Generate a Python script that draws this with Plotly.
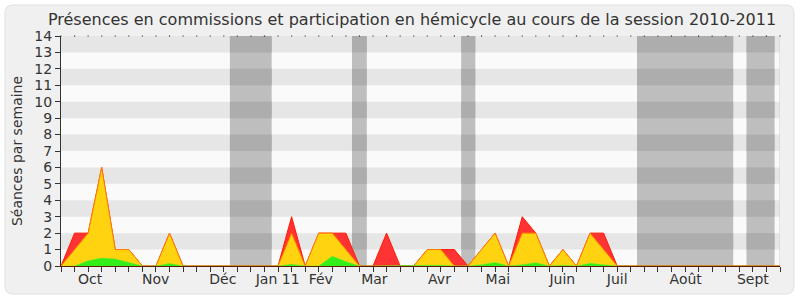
import plotly.graph_objects as go

# ---- data (one value per week, week index 0..53) ----
weeks = list(range(54))
red_vals = [0, 2, 2, 6, 1, 1, 0, 0, 2, 0, 0, 0, 0, 0, 0, 0, 0, 3, 0, 2, 2, 2, 0, 0, 2, 0, 0,
            1, 1, 1, 0, 1, 2, 0, 3, 2, 0, 1, 0, 2, 2, 0, 0, 0, 0, 0, 0, 0, 0, 0, 0, 0, 0, 0]
yellow_vals = [0, 1, 2, 6, 1, 1, 0, 0, 2, 0, 0, 0, 0, 0, 0, 0, 0, 2, 0, 2, 2, 1, 0, 0, 0, 0, 0,
               1, 1, 0, 0, 1, 2, 0, 2, 2, 0, 1, 0, 2, 1, 0, 0, 0, 0, 0, 0, 0, 0, 0, 0, 0, 0, 0]
green_vals = [0, 0, 0.32, 0.48, 0.43, 0.2, 0, 0, 0.15, 0, 0, 0, 0, 0, 0, 0, 0, 0.1, 0, 0, 0.6, 0.27,
              0, 0, 0, 0, 0, 0.04, 0.05, 0, 0, 0.08, 0.22, 0, 0.08, 0.2, 0, 0.05, 0, 0.16, 0.08, 0,
              0, 0, 0, 0, 0, 0, 0, 0, 0, 0, 0, 0]

month_labels = ["Oct", "Nov", "Déc", "Jan 11", "Fév", "Mar", "Avr", "Mai", "Juin", "Juil", "Août", "Sept"]
month_pos = [2.14, 6.97, 11.93, 15.97, 19.15, 23.1, 27.9, 32.2, 36.95, 41.0, 46.05, 51.0]

# holiday bands (week units)
band_start = [12.45, 21.45, 29.5, 42.46, 50.53]
band_end = [15.53, 22.54, 30.54, 49.55, 52.6]

y_max = 14
title = "Présences en commissions et participation en hémicycle au cours de la session 2010-2011"

FONT = "DejaVu Sans"
TXT = "#333333"

# ---- geometry helpers (pixel -> paper) ----
W, H = 800, 300
ML, MR, MT, MB = 61, 20, 36, 34
PW, PH = W - ML - MR, H - MT - MB


def px(x):
    return (x - ML) / PW


def py(y):
    return (H - MB - y) / PH


fig = go.Figure()

# traces (overlaid areas)
fig.add_trace(go.Scatter(x=weeks, y=red_vals, mode="lines", fill="tozeroy",
                         fillcolor="#ff3333", line=dict(color="#ff1a00", width=1),
                         hoverinfo="skip", showlegend=False))
fig.add_trace(go.Scatter(x=weeks, y=yellow_vals, mode="lines", fill="tozeroy",
                         fillcolor="#ffd30f", line=dict(color="#ff8000", width=1),
                         hoverinfo="skip", showlegend=False))
fig.add_trace(go.Scatter(x=weeks, y=green_vals, mode="lines", fill="tozeroy",
                         fillcolor="#33ee19", line=dict(color="#66e633", width=0.5),
                         hoverinfo="skip", showlegend=False))
# dotted top edge at each week
fig.add_trace(go.Scatter(x=weeks, y=[y_max] * len(weeks), mode="markers",
                         marker=dict(symbol="square", size=1.2, color="#333333", line=dict(width=0)),
                         cliponaxis=False, hoverinfo="skip", showlegend=False))

shapes = []
# outer rounded panel
r = 8
x0, x1, y0, y1 = 5, 794, 5, 294
path = (f"M {px(x0 + r)},{py(y0)} L {px(x1 - r)},{py(y0)} "
        f"Q {px(x1)},{py(y0)} {px(x1)},{py(y0 + r)} L {px(x1)},{py(y1 - r)} "
        f"Q {px(x1)},{py(y1)} {px(x1 - r)},{py(y1)} L {px(x0 + r)},{py(y1)} "
        f"Q {px(x0)},{py(y1)} {px(x0)},{py(y1 - r)} L {px(x0)},{py(y0 + r)} "
        f"Q {px(x0)},{py(y0)} {px(x0 + r)},{py(y0)} Z")
shapes.append(dict(type="path", path=path, xref="paper", yref="paper", layer="below",
                   fillcolor="#f0f0f0", line=dict(color="#e0e0e0", width=1)))
# plot area background
shapes.append(dict(type="rect", xref="paper", yref="paper", x0=0, x1=1, y0=0, y1=1,
                   fillcolor="#fafafa", line=dict(width=0), layer="below"))

# horizontal stripes
for k in range(1, y_max, 2):
    shapes.append(dict(type="rect", xref="x", yref="y", x0=0, x1=53, y0=k, y1=k + 1,
                       fillcolor="#e6e6e6", line=dict(width=0), layer="below"))
# vertical bands
for s, e in zip(band_start, band_end):
    shapes.append(dict(type="rect", xref="x", yref="y", x0=s, x1=e, y0=0, y1=y_max,
                       fillcolor="#bebebe", line=dict(width=0), layer="below"))
    for k in range(1, y_max, 2):
        shapes.append(dict(type="rect", xref="x", yref="y", x0=s, x1=e, y0=k, y1=k + 1,
                           fillcolor="#adadad", line=dict(width=0), layer="below"))
# right border
shapes.append(dict(type="line", xref="x", yref="y", x0=53, x1=53, y0=0, y1=y_max,
                   line=dict(color="#d0d0d0", width=1), layer="below"))

fig.update_layout(
    width=W, height=H,
    margin=dict(l=ML, r=MR, t=MT, b=MB, pad=0),
    paper_bgcolor="white",
    plot_bgcolor="#fafafa",
    shapes=shapes,
    font=dict(family=FONT, size=14, color=TXT),
    title=dict(text=title, xref="paper", x=px(412), xanchor="center", y=1 - 19 / H, yanchor="middle",
               font=dict(family=FONT, size=16, color=TXT)),
    showlegend=False,
)

fig.update_xaxes(
    range=[0, 53], showgrid=False, zeroline=False,
    showline=True, linecolor="#5a1e00", linewidth=1,
    tickmode="array", tickvals=month_pos, ticktext=month_labels,
    ticks="", tickfont=dict(family=FONT, size=14, color=TXT),
    minor=dict(tickmode="array", tickvals=weeks, ticks="outside", ticklen=5,
               tickcolor="#333333", tickwidth=1, showgrid=False),
    fixedrange=True,
)
fig.update_yaxes(
    range=[0, y_max], showgrid=False, zeroline=False,
    showline=True, linecolor="#333333", linewidth=1,
    tickmode="array", tickvals=list(range(0, y_max + 1)),
    ticks="outside", ticklen=5, tickcolor="#333333",
    tickfont=dict(family=FONT, size=14, color=TXT),
    title=dict(text="Séances par semaine", font=dict(family=FONT, size=14, color=TXT), standoff=8),
    fixedrange=True,
)

fig.write_html("out.html")
